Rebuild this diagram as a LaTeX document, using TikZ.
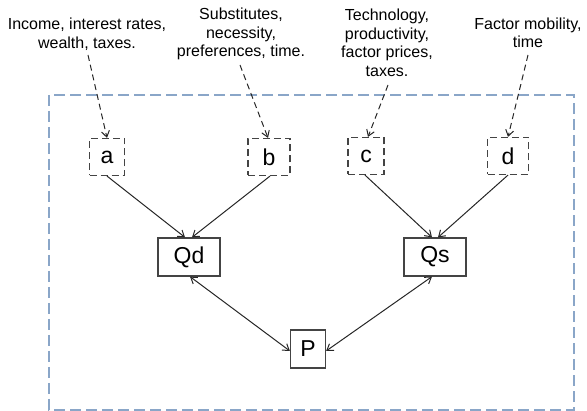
\documentclass[tikz,border=0pt]{standalone}
\usepackage{fontspec}
\setmainfont{Liberation Sans}
\usetikzlibrary{arrows.meta}
\definecolor{boxgray}{HTML}{444444}
\definecolor{frameblue}{HTML}{8AA6C8}
\tikzset{
  var/.style={draw=boxgray, line width=1.2pt, minimum height=37pt, inner sep=0pt, font=\fontsize{23}{23}\selectfont},
  dvar/.style={var, dashed, dash pattern=on 7pt off 4pt},
  lbl/.style={align=center, font=\fontsize{16}{18.5}\selectfont, inner sep=0pt},
  arr/.style={draw=black!85, line width=1pt, -{Straight Barb[length=6pt,width=8pt]}},
  darr/.style={arr, dashed, dash pattern=on 6pt off 4pt},
  biarr/.style={arr, {Straight Barb[length=6pt,width=8pt]}-{Straight Barb[length=6pt,width=8pt]}}
}
\begin{document}
\begin{tikzpicture}[x=1pt,y=-1pt]
\useasboundingbox (0,0) rectangle (587,411);
\draw[frameblue, line width=1.1pt, dash pattern=on 11pt off 5pt] (49,95) rectangle (574,410);

\node[dvar, minimum width=35pt] (a) at (107,157) {a};
\node[dvar, minimum width=42pt] (b) at (269,157) {b};
\node[dvar, minimum width=36pt] (c) at (366,156) {c};
\node[dvar, minimum width=41pt] (d) at (508,156) {d};
\node[var, minimum width=62pt, minimum height=38pt] (qd) at (189,257) {Qd};
\node[var, minimum width=62pt, minimum height=38pt] (qs) at (435,257) {Qs};
\node[var, minimum width=35pt, minimum height=38pt] (p) at (308,349) {P};

\node[lbl] (la) at (87,34) {Income, interest rates,\\wealth, taxes.};
\node[lbl] (lb) at (241,34) {Substitutes,\\necessity,\\preferences, time.};
\node[lbl] (lc) at (387,43) {Technology,\\productivity,\\factor prices,\\taxes.};
\node[lbl] (ld) at (528,33) {Factor mobility,\\time};

\coordinate (sa) at (88,55);
\coordinate (sb) at (240,65);
\coordinate (sc) at (388,85);
\coordinate (sd) at (528,55);
\draw[darr] (sa) -- ([xshift=0pt]a.north);
\draw[darr] (sb) -- ([xshift=-1pt]b.north);
\draw[darr] (sc) -- ([xshift=2pt]c.north);
\draw[darr] (sd) -- ([xshift=0pt]d.north);

\draw[arr] (a.south) -- ([xshift=-4pt]qd.north);
\draw[arr] ([xshift=1pt]b.south) -- ([xshift=3pt]qd.north);
\draw[arr] ([xshift=-1pt]c.south) -- ([xshift=-3pt]qs.north);
\draw[arr] (d.south) -- ([xshift=3pt]qs.north);

\draw[biarr] ([xshift=1pt]qd.south) -- ([yshift=-2pt]p.west);
\draw[biarr] ([xshift=-3pt]qs.south) -- ([yshift=-2pt]p.east);
\end{tikzpicture}
\end{document}
